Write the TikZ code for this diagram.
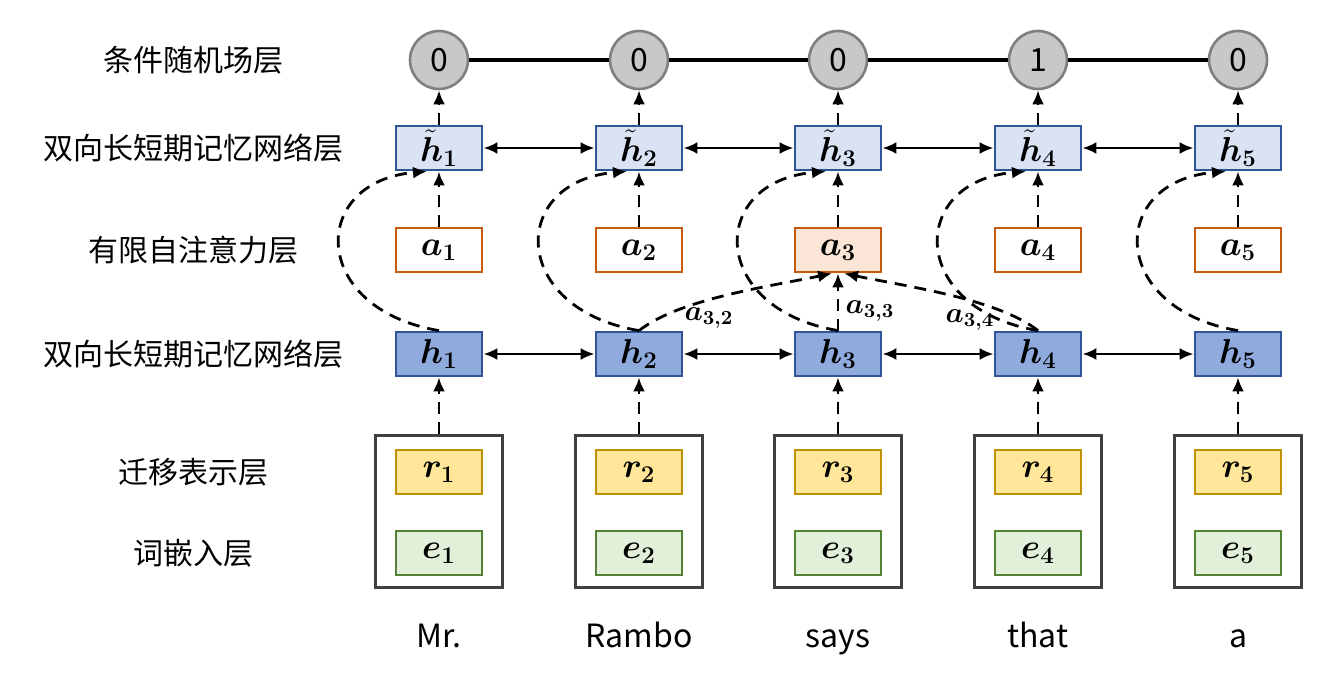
\documentclass[tikz,border=0pt]{standalone}
\usepackage{fontspec}
\usepackage{amsmath}
\usepackage{bm}
\newfontfamily\cjk{Noto Sans CJK SC}
\usetikzlibrary{arrows.meta}
\definecolor{hblue}{HTML}{2F5597}
\definecolor{hfill}{HTML}{8FAADC}
\definecolor{htfill}{HTML}{DAE3F3}
\definecolor{aorange}{HTML}{C55A11}
\definecolor{afill}{HTML}{FBE5D6}
\definecolor{rgold}{HTML}{BF9000}
\definecolor{rfill}{HTML}{FFE699}
\definecolor{egreen}{HTML}{548235}
\definecolor{efill}{HTML}{E2F0D9}
\definecolor{outgray}{HTML}{404040}
\definecolor{crfgray}{HTML}{7F7F7F}
\definecolor{crffill}{HTML}{C8C8C8}
\begin{document}
\begin{tikzpicture}[x=0.5pt,y=0.5pt,
  box/.style={draw, line width=1.4pt, minimum width=43pt, minimum height=22pt, inner sep=0pt, font=\fontsize{17}{18}\selectfont},
  hbox/.style={box, draw=hblue, fill=hfill},
  htbox/.style={box, draw=hblue, fill=htfill},
  abox/.style={box, draw=aorange},
  rbox/.style={box, draw=rgold, fill=rfill},
  ebox/.style={box, draw=egreen, fill=efill},
  outerbox/.style={draw=outgray, line width=1.5pt, minimum width=63.5pt, minimum height=76pt, inner sep=0pt},
  crf/.style={circle, draw=crfgray, fill=crffill, line width=1.3pt, minimum size=29pt, inner sep=0pt, font=\cjk\fontsize{16}{16}\selectfont},
  lab/.style={font=\cjk\fontsize{15}{16}\selectfont},
  word/.style={font=\cjk\fontsize{16}{16}\selectfont, anchor=base},
  dasharrow/.style={line width=1.4pt, dash pattern=on 6pt off 4pt, -{Latex[length=7pt,width=6pt]}},
  biarrow/.style={line width=1.3pt, {Latex[length=7pt,width=6pt]}-{Latex[length=7pt,width=6pt]}},
  crfline/.style={line width=2.4pt},
  wlab/.style={font=\fontsize{14.5}{15}\selectfont}
]
\useasboundingbox (0,0) rectangle (1320,676);
% left labels
\node[lab] (L1) at (193,616) {条件随机场层};
\node[lab] (L2) at (193,528) {双向长短期记忆网络层};
\node[lab] (L3) at (193,426) {有限自注意力层};
\node[lab] (L4) at (193,322) {双向长短期记忆网络层};
\node[lab] (L5) at (193,204) {迁移表示层};
\node[lab] (L6) at (193,123) {词嵌入层};
% columns
\foreach \i/\x/\w/\tag/\af in {1/439/Mr./0/white, 2/639/Rambo/0/white, 3/838/says/0/afill, 4/1038/that/1/white, 5/1238/a/0/white}{
  \node[crf] (c\i) at (\x,616) {\tag};
  \node[htbox] (ht\i) at (\x,528) {$\bm{\tilde{h}_{\i}}$};
  \node[abox, fill=\af] (a\i) at (\x,426) {$\bm{a_{\i}}$};
  \node[hbox] (h\i) at (\x,322) {$\bm{h_{\i}}$};
  \node[outerbox] (o\i) at (\x,165) {};
  \node[rbox] (r\i) at (\x,204) {$\bm{r_{\i}}$};
  \node[ebox] (e\i) at (\x,123) {$\bm{e_{\i}}$};
  \node[word] (w\i) at (\x,29) {\w};
  \draw[dasharrow] (ht\i.north) -- (c\i.south);
  \draw[dasharrow] (a\i.north) -- (ht\i.south);
  \draw[dasharrow] (o\i.north) -- (h\i.south);
  \draw[dasharrow] (h\i.north) .. controls +(-130,22) and +(-118,-10) .. ([xshift=-6pt]ht\i.south);
}
% horizontal connections
\foreach \i/\j in {1/2, 2/3, 3/4, 4/5}{
  \draw[crfline] (c\i.east) -- (c\j.west);
  \draw[biarrow] (ht\i.east) -- (ht\j.west);
  \draw[biarrow] (h\i.east) -- (h\j.west);
}
% attention
\draw[dasharrow] (h2.north) .. controls +(41,32) and +(-62,-13) .. ([xshift=-3pt]a3.south);
\draw[dasharrow] (h3.north) -- (a3.south);
\draw[dasharrow] (h4.north) .. controls +(-41,32) and +(62,-13) .. ([xshift=3pt]a3.south);
\node[wlab] (l32) at (709,358) {$\bm{a_{3,2}}$};
\node[wlab] (l33) at (870,365) {$\bm{a_{3,3}}$};
\node[wlab] (l34) at (970,356) {$\bm{a_{3,4}}$};
\end{tikzpicture}
\end{document}
